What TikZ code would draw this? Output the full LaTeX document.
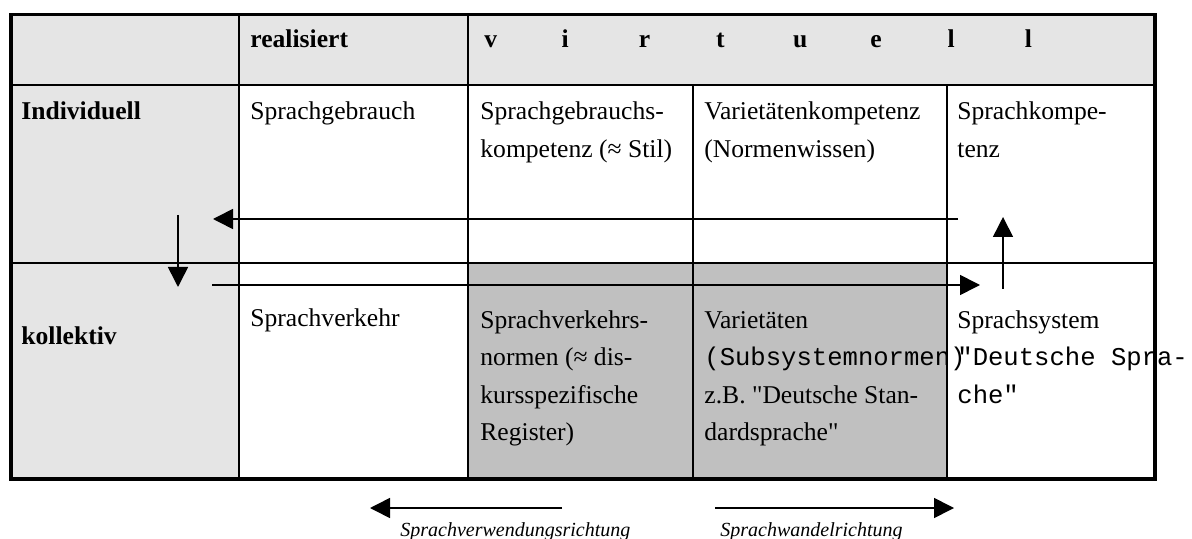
\documentclass[tikz,border=0pt]{standalone}
\usepackage{fontspec}
\setmainfont{Liberation Serif}
\setmonofont{Liberation Mono}
\usepackage{xcolor}
\definecolor{headgray}{HTML}{E5E5E5}
\definecolor{normgray}{HTML}{C0C0C0}
\usetikzlibrary{arrows.meta}
\tikzset{
  %% Styles %%
  tableframe/.style = {line width=1.75pt},
  gridline/.style = {line width=0.85pt},
  richtung/.style = {line width=0.8pt, -{Triangle[length=10pt, width=10pt]}},
  % multi-line cells sit on the baseline of their last line
  cell/.style = {anchor=base west, inner sep=0pt, align=left,
    font=\fontsize{12.8}{18.75}\selectfont},
  headcell/.style = {cell, font=\fontsize{12.8}{18.75}\selectfont\bfseries},
  richtungslabel/.style = {anchor=base west, inner sep=0pt,
    font=\fontsize{10}{12}\selectfont\itshape},
}

\begin{document}
\begin{tikzpicture}[x=0.5pt, y=-0.5pt]
    \useasboundingbox (0,0) rectangle (1192,539);

    % Shaded cells
    \fill[headgray] (11,14.5) rectangle (1155,85);
    \fill[headgray] (11,85) rectangle (239,479);
    \fill[normgray] (468,263) rectangle (947,479);

    % Header
    \node[headcell] (realisiert) at (250,48) {realisiert};
    \foreach \c [count=\k from 0] in {v,i,r,t,u,e,l,l}
        \node[headcell] (virt\k) at ({484+77.2*\k},48) {\c};
    \node[headcell] (individuell) at (21,120) {Individuell};
    \node[headcell] (kollektiv) at (21,344) {kollektiv};

    % Row individuell
    \node[cell] (gebrauch) at (250,120) {Sprachgebrauch};
    \node[cell] (stil) at (480,157.5) {Sprachgebrauchs-\\kompetenz (≈ Stil)};
    \node[cell] (normwissen) at (704,157.5) {Varietätenkompetenz\\(Normenwissen)};
    \node[cell] (kompetenz) at (957,157.5) {Sprachkompe-\\tenz};

    % Row kollektiv
    \node[cell] (verkehr) at (250,327) {Sprachverkehr};
    \node[cell] (register) at (480,440.5) {Sprachverkehrs-\\normen (≈ dis-\\kursspezifische\\Register)};
    \node[cell] (varietaeten) at (704,440.5) {Varietäten\\{\ttfamily (Subsystemnormen)}\\z.B. \textquotedbl Deutsche Stan-\\dardsprache\textquotedbl};
    \node[cell] (system) at (957,403) {Sprachsystem\\{\ttfamily \textquotedbl Deutsche Spra-}\\{\ttfamily che\textquotedbl}};

    % Grid
    \draw[gridline] (11,85) -- (1155,85);
    \draw[gridline] (11,263) -- (1155,263);
    \foreach \x in {239,468}
        \draw[gridline] (\x,14.5) -- (\x,479);
    \foreach \x in {693,947}
        \draw[gridline] (\x,85) -- (\x,479);

    % Main rectangle
    \draw[tableframe] (11,14.5) rectangle (1155,479);

    % Arrows in the table
    \coordinate (gebrauchStart) at (958,219);
    \coordinate (gebrauchEnd) at (213,219);
    \coordinate (downStart) at (178,215);
    \coordinate (downEnd) at (178,287);
    \coordinate (wandelStart) at (212,285);
    \coordinate (wandelEnd) at (980,285);
    \coordinate (upStart) at (1003,289);
    \coordinate (upEnd) at (1003,217);
    \draw[richtung] (gebrauchStart) -- (gebrauchEnd);
    \draw[richtung] (downStart) -- (downEnd);
    \draw[richtung] (wandelStart) -- (wandelEnd);
    \draw[richtung] (upStart) -- (upEnd);

    % Directions below
    \coordinate (verwStart) at (562,508);
    \coordinate (verwEnd) at (370,508);
    \coordinate (sprwStart) at (715,508);
    \coordinate (sprwEnd) at (954,508);
    \draw[richtung] (verwStart) -- (verwEnd);
    \draw[richtung] (sprwStart) -- (sprwEnd);
    \node[richtungslabel] (verwLabel) at (400,536) {Sprachverwendungsrichtung};
    \node[richtungslabel] (sprwLabel) at (720,536) {Sprachwandelrichtung};
\end{tikzpicture}
\end{document}
